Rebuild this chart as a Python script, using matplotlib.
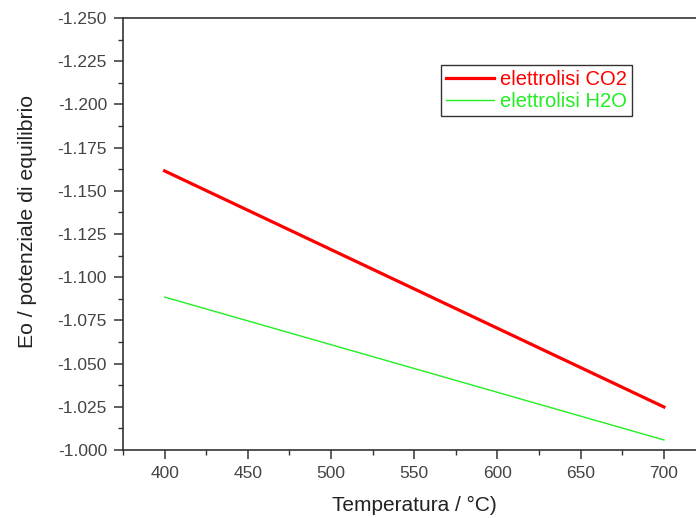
import matplotlib.pyplot as plt
from matplotlib.ticker import MultipleLocator, FormatStrFormatter

plt.rcParams['font.family'] = ['Liberation Sans', 'DejaVu Sans']

temp = [400, 700]
e_co2 = [-1.1615, -1.0249]
e_h2o = [-1.0885, -1.0058]

fig = plt.figure(figsize=(6.96, 5.18), dpi=100)
ax = fig.add_axes([0.1767, 0.1313, 0.837, 0.834])

ax.plot(temp, e_co2, color='#ff0000', lw=2.3, label='elettrolisi CO2')
ax.plot(temp, e_h2o, color='#22ee22', lw=1.0, label='elettrolisi H2O')

ax.set_xlim(375, 725)
ax.set_ylim(-1.000, -1.250)

ax.xaxis.set_major_locator(MultipleLocator(50))
ax.xaxis.set_minor_locator(MultipleLocator(25))
ax.yaxis.set_major_locator(MultipleLocator(0.025))
ax.yaxis.set_minor_locator(MultipleLocator(0.0125))
ax.yaxis.set_major_formatter(FormatStrFormatter('%.3f'))

for s in ['left', 'bottom', 'top']:
    ax.spines[s].set_color('#333333')
    ax.spines[s].set_linewidth(1.2)
ax.spines['right'].set_visible(False)

ax.tick_params(which='major', direction='out', length=6.5, width=1.1,
               colors='#333333', labelsize=12.5, labelcolor='#444444', pad=5)
ax.tick_params(which='minor', direction='out', length=3.6, width=1.0,
               colors='#333333')
ax.tick_params(top=False, right=False)

ax.set_xlabel('Temperatura / °C)', fontsize=15, color='#222222', labelpad=11)
ax.set_ylabel('Eo / potenziale di equilibrio', fontsize=15.3, color='#222222')
ax.yaxis.set_label_coords(-0.148, 0.529)

leg = ax.legend(loc='upper left', bbox_to_anchor=(0.546, 0.891),
                fontsize=14.5, handlelength=2.4, handletextpad=0.3,
                borderpad=0.25, borderaxespad=0, labelspacing=0.15,
                fancybox=False, framealpha=1, edgecolor='#333333')
leg.get_frame().set_linewidth(1.0)
for txt, c in zip(leg.get_texts(), ['#ff0000', '#22ee22']):
    txt.set_color(c)

fig.savefig('out.png', dpi=100)
